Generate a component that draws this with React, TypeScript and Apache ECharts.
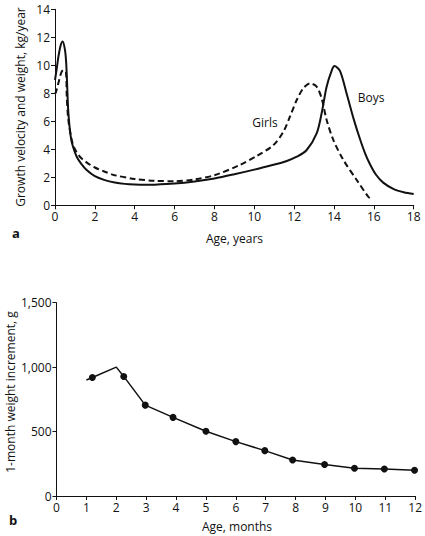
import React, { useEffect, useRef } from "react";
import * as echarts from "echarts";

// Panel a: growth velocity (kg/year) vs age (years)
const boysAge = [0, 0.08, 0.17, 0.28, 0.385, 0.5, 0.56, 0.6, 0.67, 0.79, 0.9, 1.09, 1.3, 1.59, 2.0, 2.5, 3.0, 3.5, 4.0, 4.5, 5.0, 6.0, 7.0, 8.0, 9.0, 10.0, 10.96, 11.6, 12.13, 12.63, 13.13, 13.38, 13.63, 13.88, 14.02, 14.3, 14.64, 15.0, 15.3, 15.55, 15.8, 16.1, 16.47, 17.0, 17.5, 18.0];
const boysVel = [8.95, 9.7, 10.6, 11.4, 11.7, 11.1, 10.2, 8.95, 6.6, 4.9, 4.2, 3.47, 3.0, 2.52, 2.08, 1.8, 1.63, 1.53, 1.48, 1.46, 1.47, 1.55, 1.7, 1.92, 2.22, 2.55, 2.9, 3.15, 3.47, 3.95, 5.14, 6.57, 8.47, 9.6, 9.95, 9.6, 7.95, 6.1, 4.75, 3.75, 2.95, 2.2, 1.62, 1.15, 0.93, 0.8];
const girlsAge = [0, 0.05, 0.2, 0.32, 0.42, 0.55, 0.59, 0.67, 0.84, 1.0, 1.25, 1.6, 2.0, 2.5, 3.0, 4.0, 5.0, 6.0, 7.0, 8.0, 9.28, 10.12, 10.96, 11.46, 11.79, 12.13, 12.46, 12.79, 13.13, 13.38, 13.63, 13.97, 14.47, 15.14, 15.72, 15.87];
const girlsVel = [7.95, 8.1, 8.9, 9.5, 9.66, 9.5, 7.76, 6.1, 4.66, 4.0, 3.47, 3.05, 2.7, 2.4, 2.15, 1.88, 1.75, 1.72, 1.85, 2.15, 2.88, 3.52, 4.3, 5.26, 6.33, 7.52, 8.36, 8.71, 8.47, 7.64, 6.1, 4.66, 3.24, 1.81, 0.61, 0.45];
const yearTicks = { min: 0, max: 18, interval: 2 };
const velTicks = { min: 0, max: 14, interval: 2 };

// Panel b: 1-month weight increment (g) vs age (months)
const monthAge = [1.0, 1.2, 2.0, 2.25, 2.97, 3.9, 5.0, 6.0, 6.97, 7.9, 8.97, 9.97, 10.97, 11.98];
const monthGain = [900, 920, 1000, 928, 705, 610, 502, 422, 352, 280, 245, 216, 210, 200];
const monthMarked = [false, true, false, true, true, true, true, true, true, true, true, true, true, true];
const monthTicks = { min: 0, max: 12, interval: 1 };
const gainTicks = { min: 0, max: 1500, interval: 500 };

const FONT = "'Open Sans', 'Noto Sans', sans-serif";
const INK = "#111";

function axisCommon() {
  return {
    axisLine: { show: true, onZero: false, lineStyle: { color: INK, width: 1 } },
    axisTick: { show: true, inside: false, length: 4, lineStyle: { color: INK, width: 1 } },
    axisLabel: { color: INK, fontSize: 12, fontFamily: FONT, margin: 5 },
    splitLine: { show: false },
  };
}

export default function App() {
  const ref = useRef<HTMLDivElement>(null);
  useEffect(() => {
    if (!ref.current) return;
    const chart = echarts.init(ref.current, undefined, { renderer: "svg" });
    const boys = boysAge.map((x, i) => [x, boysVel[i]]);
    const girls = girlsAge.map((x, i) => [x, girlsVel[i]]);
    const gain = monthAge.map((x, i) => ({
      value: [x, monthGain[i]],
      symbol: monthMarked[i] ? "circle" : "none",
    }));
    chart.setOption({
      animation: false,
      backgroundColor: "#fff",
      grid: [
        { left: 55, top: 9.3, width: 358.7, height: 196 },
        { left: 56.5, top: 302.7, width: 360, height: 193.3 },
      ],
      xAxis: [
        { type: "value", gridIndex: 0, ...yearTicks, ...axisCommon() },
        { type: "value", gridIndex: 1, ...monthTicks, ...axisCommon() },
      ],
      yAxis: [
        { type: "value", gridIndex: 0, ...velTicks, ...axisCommon() },
        {
          type: "value",
          gridIndex: 1,
          ...gainTicks,
          ...axisCommon(),
          axisLabel: {
            color: INK,
            fontSize: 12,
            fontFamily: FONT,
            margin: 5,
            formatter: (v: number) => v.toLocaleString("en-US"),
          },
        },
      ],
      series: [
        {
          type: "line",
          name: "Boys",
          xAxisIndex: 0,
          yAxisIndex: 0,
          data: boys,
          smooth: 0.3,
          showSymbol: false,
          symbol: "none",
          lineStyle: { color: INK, width: 2 },
        },
        {
          type: "line",
          name: "Girls",
          xAxisIndex: 0,
          yAxisIndex: 0,
          data: girls,
          smooth: 0.3,
          showSymbol: false,
          symbol: "none",
          lineStyle: { color: INK, width: 2, type: [6, 3.5] },
        },
        {
          type: "line",
          xAxisIndex: 1,
          yAxisIndex: 1,
          data: gain,
          symbolSize: 7,
          itemStyle: { color: INK },
          lineStyle: { color: INK, width: 1.5 },
        },
      ],
      graphic: [
        {
          type: "text",
          x: 20,
          y: 107,
          rotation: Math.PI / 2,
          style: { text: "Growth velocity and weight, kg/year", fontSize: 12, fontFamily: FONT, fill: INK, align: "center", verticalAlign: "middle" },
        },
        {
          type: "text",
          x: 234.5,
          y: 238,
          style: { text: "Age, years", fontSize: 12, fontFamily: FONT, fill: INK, align: "center", verticalAlign: "middle" },
        },
        {
          type: "text",
          x: 265,
          y: 122,
          style: { text: "Girls", fontSize: 12, fontFamily: FONT, fill: INK, align: "center", verticalAlign: "middle" },
        },
        {
          type: "text",
          x: 371,
          y: 97,
          style: { text: "Boys", fontSize: 12, fontFamily: FONT, fill: INK, align: "center", verticalAlign: "middle" },
        },
        {
          type: "text",
          x: 16,
          y: 233,
          style: { text: "a", fontSize: 13, fontWeight: "bold", fontFamily: FONT, fill: INK, align: "center", verticalAlign: "middle" },
        },
        {
          type: "text",
          x: 10,
          y: 392,
          rotation: Math.PI / 2,
          style: { text: "1-month weight increment, g", fontSize: 12, fontFamily: FONT, fill: INK, align: "center", verticalAlign: "middle" },
        },
        {
          type: "text",
          x: 237,
          y: 526,
          style: { text: "Age, months", fontSize: 12, fontFamily: FONT, fill: INK, align: "center", verticalAlign: "middle" },
        },
        {
          type: "text",
          x: 13,
          y: 520,
          style: { text: "b", fontSize: 13, fontWeight: "bold", fontFamily: FONT, fill: INK, align: "center", verticalAlign: "middle" },
        },
      ],
    });
    return () => chart.dispose();
  }, []);
  return (
    <div
      ref={ref}
      style={{ position: "absolute", left: 0, top: 0, width: 425, height: 536, background: "#fff" }}
    />
  );
}
